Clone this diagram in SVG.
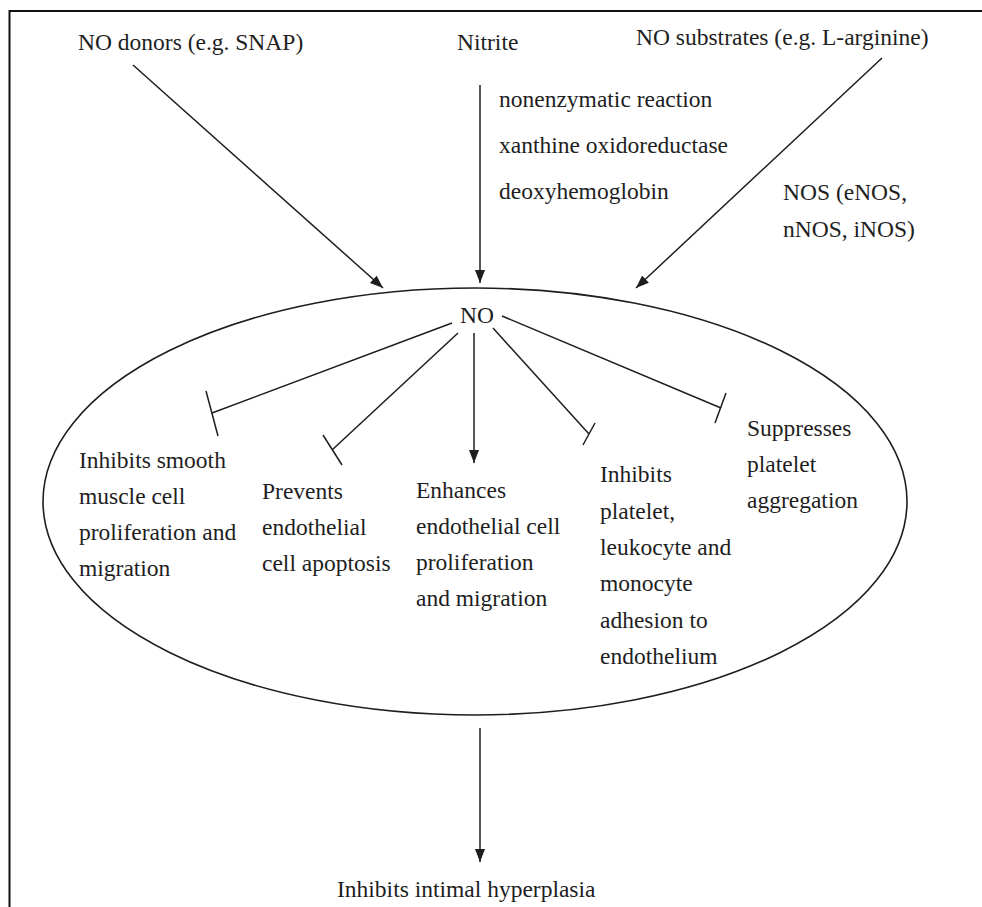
<svg xmlns="http://www.w3.org/2000/svg" width="982" height="907" viewBox="0 0 982 907">
<style>
text{font-family:"Liberation Serif","Times New Roman",serif;font-size:23.5px;fill:#1e1e1e}
.c{stroke:#1e1e1e;stroke-width:1.5;fill:none}
.bar{stroke:#1e1e1e;stroke-width:1.5}
</style>
<defs>
<marker id="arr" markerUnits="userSpaceOnUse" markerWidth="14" markerHeight="12" refX="13" refY="5" orient="auto">
<path d="M0,0 L13,5 L0,10 Z" fill="#1e1e1e"/>
</marker>
</defs>
<rect width="982" height="907" fill="#fff"/>
<path d="M9.5,907 V11 H982" fill="none" stroke="#111" stroke-width="2"/>
<g id="donors"><text x="78" y="50">NO donors (e.g. SNAP)</text></g>
<g id="nitrite"><text x="457" y="50">Nitrite</text></g>
<g id="substrates"><text x="636" y="45">NO substrates (e.g. L-arginine)</text></g>
<g id="nitrite-labels">
<text x="499" y="107">nonenzymatic reaction</text>
<text x="499" y="153">xanthine oxidoreductase</text>
<text x="499" y="199">deoxyhemoglobin</text>
</g>
<g id="nos-label">
<text x="783" y="200">NOS (eNOS,</text>
<text x="783" y="237">nNOS, iNOS)</text>
</g>
<g id="no-ellipse">
<ellipse cx="475" cy="501.5" rx="432" ry="213.5" fill="none" stroke="#1e1e1e" stroke-width="1.6"/>
<text x="460" y="323">NO</text>
</g>
<g id="smooth-muscle">
<text x="79" y="468">Inhibits smooth</text>
<text x="79" y="504">muscle cell</text>
<text x="79" y="540">proliferation and</text>
<text x="79" y="576">migration</text>
</g>
<g id="apoptosis">
<text x="262" y="499">Prevents</text>
<text x="262" y="535">endothelial</text>
<text x="262" y="571">cell apoptosis</text>
</g>
<g id="enhances">
<text x="416" y="498">Enhances</text>
<text x="416" y="534">endothelial cell</text>
<text x="416" y="570">proliferation</text>
<text x="416" y="606">and migration</text>
</g>
<g id="adhesion">
<text x="600" y="482">Inhibits</text>
<text x="600" y="518.5">platelet,</text>
<text x="600" y="555">leukocyte and</text>
<text x="600" y="591">monocyte</text>
<text x="600" y="627.5">adhesion to</text>
<text x="600" y="664">endothelium</text>
</g>
<g id="aggregation">
<text x="747" y="436">Suppresses</text>
<text x="747" y="472">platelet</text>
<text x="747" y="508">aggregation</text>
</g>
<g id="hyperplasia"><text x="337" y="897">Inhibits intimal hyperplasia</text></g>
<g id="connectors">
<line class="c" x1="133" y1="65" x2="383" y2="288" marker-end="url(#arr)"/>
<line class="c" x1="480" y1="85" x2="480" y2="283" marker-end="url(#arr)"/>
<line class="c" x1="882" y1="58" x2="636" y2="288" marker-end="url(#arr)"/>
<line class="c" x1="452" y1="323" x2="212" y2="413"/>
<line class="bar" x1="206" y1="391" x2="218" y2="436"/>
<line class="c" x1="458" y1="333" x2="332" y2="450"/>
<line class="bar" x1="323" y1="435" x2="342" y2="465"/>
<line class="c" x1="474" y1="333" x2="474" y2="463" marker-end="url(#arr)"/>
<line class="c" x1="493" y1="328" x2="589" y2="434"/>
<line class="bar" x1="595" y1="423" x2="583" y2="445"/>
<line class="c" x1="502" y1="316" x2="721" y2="408"/>
<line class="bar" x1="726" y1="393" x2="715" y2="423"/>
<line class="c" x1="480" y1="728" x2="480" y2="862" marker-end="url(#arr)"/>
</g>
</svg>
